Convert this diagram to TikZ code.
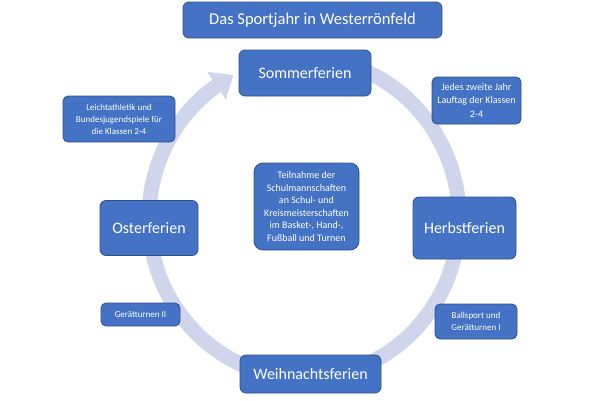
\documentclass[tikz,border=0pt]{standalone}
\usepackage{fontspec}
\setmainfont{Carlito}
\usetikzlibrary{arrows.meta,bending}
\definecolor{boxblue}{RGB}{68,114,196}
\definecolor{boxedge}{RGB}{47,82,143}
\definecolor{ringcol}{RGB}{207,213,234}
\begin{document}
\begin{tikzpicture}[x=1pt,y=-1pt,
  box/.style 2 args={draw=boxedge, line width=0.8pt, fill=boxblue, text=white,
    rounded corners=6pt, align=center, inner sep=0pt,
    minimum width=#1pt, minimum height=#2pt},
  big/.style={font=\fontsize{16}{19}\selectfont},
  small/.style={font=\fontsize{9}{12}\selectfont, rounded corners=5pt},
  mid/.style={font=\fontsize{10}{12.6}\selectfont, rounded corners=9pt}]
\useasboundingbox (0,0) rectangle (600,400);
\coordinate (c) at (304,218);
\draw[ringcol, line width=15pt, -{Triangle[length=20pt,width=32pt,bend]}]
  (c) ++(-80:155 and 160) arc[start angle=-80, end angle=243, x radius=155, y radius=160];
\node[box={259}{36}, font=\fontsize{16.5}{19}\selectfont] (title) at (312.5,20) {Das Sportjahr in Westerrönfeld};
\node[box={132}{46}, big] (som) at (305,73) {Sommerferien};
\node[box={103}{62}, big] (herb) at (464.5,228) {Herbstferien};
\node[box={141}{38}, big] (weih) at (310.5,374) {Weihnachtsferien};
\node[box={98}{55}, big] (oster) at (149,228) {Osterferien};
\node[box={105}{87}, mid] (center) at (306.5,206.5) {Teilnahme der\\Schulmannschaften\\an Schul- und\\Kreismeisterschaften\\im Basket-, Hand-,\\Fußball und Turnen};
\node[box={112}{46}, small] (leicht) at (119,119) {Leichtathletik und\\Bundesjugendspiele für\\die Klassen 2-4};
\node[box={89}{47}, small, font=\fontsize{10}{13.3}\selectfont] (jedes) at (476.5,100.5) {Jedes zweite Jahr\\Lauftag der Klassen\\2-4};
\node[box={79}{23}, small] (geraet) at (140.5,314.5) {Gerätturnen II};
\node[box={82}{35}, small] (ball) at (476,321.5) {Ballsport und\\Gerätturnen I};
\end{tikzpicture}
\end{document}
